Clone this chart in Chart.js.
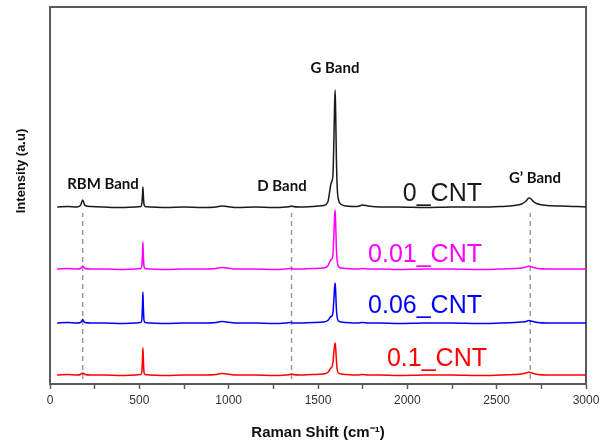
<!DOCTYPE html>
<html>
<head>
<meta charset="utf-8">
<script src="https://cdn.jsdelivr.net/npm/chart.js@4"></script>
<style>
  html, body { margin: 0; padding: 0; background: #fff; }
  canvas { display: block; }
</style>
</head>
<body>
<canvas id="raman" width="610" height="441"></canvas>
<script>
// Raman shift positions (cm-1), shared by all four spectra
const shift = [40, 100, 150, 170, 178, 183, 188, 196, 230, 300,
  400, 480, 508, 514, 518, 520, 522, 526, 532, 560,
  650, 750, 850, 930, 960, 990, 1050, 1150, 1250, 1320,
  1345, 1352, 1360, 1400, 1470, 1530, 1555, 1565, 1572, 1578,
  1584, 1589, 1593, 1596, 1599, 1603, 1608, 1615, 1630, 1660,
  1720, 1750, 1780, 1850, 1950, 2100, 2250, 2400, 2520, 2600,
  2640, 2665, 2680, 2690, 2705, 2730, 2780, 2860, 2950, 3000];

// offset intensities (a.u)
const cnt0 = [177, 177.5, 177, 178.5, 182, 184, 182, 178.5, 177.5, 177,
  176.5, 177, 177.5, 180, 190, 197, 190, 180, 177.5, 177,
  176.5, 177, 176.5, 177, 178, 177.5, 176.5, 177, 176.5, 177,
  177.5, 178, 177.5, 177, 177.5, 178.5, 182, 192, 200, 203,
  210, 245, 280, 294, 270, 225, 195, 184, 179.5, 178,
  177.5, 179, 178, 177, 177, 176.5, 177, 177, 177.5, 178.5,
  180, 183, 186, 185.5, 182.5, 180, 178.5, 178, 177.5, 177];

const cnt001 = [115, 115.5, 115, 115.5, 117, 118, 117, 115.5, 115, 115,
  114.5, 115, 115.5, 118, 132, 142, 132, 118, 115.5, 115,
  114.5, 115, 115, 115.5, 116.5, 116, 115, 115, 114.5, 115,
  115.5, 115.5, 115, 115, 115.5, 116, 118, 122, 124, 125,
  130, 150, 168, 174, 160, 135, 122, 117.5, 116, 115.5,
  115, 115.5, 115, 115, 114.5, 115, 115, 114.5, 115, 115.5,
  116, 117, 118, 117.5, 116.5, 115.5, 115, 115, 115, 115];

const cnt006 = [61, 61.5, 61, 61.5, 63, 64.5, 63, 61.5, 61, 61,
  60.5, 61, 61.5, 64, 80, 92, 80, 64, 61.5, 61,
  60.5, 61, 61, 61.5, 62.5, 62, 61, 61, 60.5, 61,
  61.5, 61.5, 61, 61, 61.5, 62, 63.5, 66, 67.5, 68,
  72, 85, 97, 101, 92, 75, 66, 63, 62, 61.5,
  61, 61.5, 61, 61, 60.5, 61, 61, 60.5, 61, 61.5,
  62, 62.5, 63.5, 63, 62.5, 61.5, 61, 61, 61, 61];

const cnt01 = [9, 9.5, 9, 9.5, 10.5, 11, 10.5, 9.5, 9, 9,
  8.5, 9, 9.5, 12, 27, 36, 27, 12, 9.5, 9,
  8.5, 9, 9, 9.5, 10.5, 10, 9, 9, 8.5, 9,
  9.5, 10, 9.5, 9, 9.5, 10, 11.5, 14, 16, 17,
  22, 32, 39, 41, 36, 24, 14, 11, 10, 9.5,
  9, 9.5, 9, 9, 8.5, 9, 9, 8.5, 9, 9.5,
  10, 11, 12, 11.5, 10.5, 9.5, 9, 9, 9, 9];

const seriesNames = ["0_CNT", "0.01_CNT", "0.06_CNT", "0.1_CNT"];
const seriesColors = ["#1a1a1a", "#ff00ff", "#0000ff", "#ff0000"];
const seriesValues = [cnt0, cnt001, cnt006, cnt01];

// band guide lines (cm-1) and their vertical span in a.u
const bandNames = ["RBM Band", "D Band", "G Band", "G\u2019 Band"];
const bandShift = [183, 1352, 1596, 2688];
const guideBands = [183, 1352, 2688];
const guideSpan = [5, 171];

const datasets = seriesValues.map((vals, i) => ({
  label: seriesNames[i],
  data: shift.map((x, j) => ({ x: x, y: vals[j] })),
  borderColor: seriesColors[i],
  borderWidth: 1.5,
  pointRadius: 0,
  cubicInterpolationMode: "monotone"
}));

guideBands.forEach(b => {
  datasets.push({
    label: "guide",
    data: guideSpan.map(y => ({ x: b, y: y })),
    borderColor: "#9a9a9a",
    borderWidth: 1.5,
    borderDash: [5, 4],
    pointRadius: 0
  });
});

// frame + text labels drawn on top of the plot
const decor = {
  id: "decor",
  beforeDatasetsDraw(chart) {
    const c = chart.ctx, a = chart.chartArea;
    c.save();
    c.strokeStyle = "#5a5a5a";
    c.lineWidth = 2;
    c.strokeRect(a.left, a.top, a.right - a.left, a.bottom - a.top);
    c.restore();
  },
  afterDatasetsDraw(chart) {
    const c = chart.ctx, a = chart.chartArea;
    const xs = chart.scales.x;
    c.save();
    c.fillStyle = "#111";
    c.font = "bold 15px Lato";
    c.textAlign = "center";
    c.textBaseline = "alphabetic";
    const bandText = [[103, 189], [282, 191], [335, 73], [535, 183]];
    bandNames.forEach((t, i) => c.fillText(t, bandText[i][0], bandText[i][1]));

    c.font = "25px 'Liberation Sans', Arial";
    c.textAlign = "right";
    const nameRight = [482, 482, 482, 487];
    const nameBase = [201, 262, 313, 366];
    seriesNames.forEach((t, i) => {
      c.fillStyle = seriesColors[i];
      c.fillText(t, nameRight[i], nameBase[i]);
    });

    // axis titles
    c.fillStyle = "#111";
    c.textAlign = "center";
    c.font = "bold 15px 'Liberation Sans', Arial";
    c.fillText("Raman Shift (cm\u207B\u00B9)", (a.left + a.right) / 2, 437);
    c.translate(25, 171);
    c.rotate(-Math.PI / 2);
    c.font = "bold 13px 'Liberation Sans', Arial";
    c.fillText("Intensity (a.u)", 0, 0);
    c.restore();
  }
};

new Chart(document.getElementById("raman"), {
  type: "line",
  data: { datasets },
  options: {
    responsive: false,
    animation: false,
    layout: { padding: { left: 50, right: 24, top: 7, bottom: 0 } },
    plugins: { legend: { display: false }, tooltip: { enabled: false } },
    scales: {
      x: {
        type: "linear",
        min: 0,
        max: 3000,
        afterFit: s => { s.height = 57; },
        ticks: {
          stepSize: 250,
          autoSkip: false,
          maxRotation: 0,
          color: "#333",
          padding: 4,
          font: { family: "'Liberation Sans', Arial", size: 12 },
          callback: v => (v % 500 === 0 ? v : "")
        },
        grid: { drawOnChartArea: false, drawTicks: true, tickLength: 5, color: "#5a5a5a", tickWidth: 1.5 },
        border: { display: true, color: "#5a5a5a", width: 2 }
      },
      y: {
        display: false,
        min: 0,
        max: 377
      }
    }
  },
  plugins: [decor]
});
</script>
</body>
</html>
